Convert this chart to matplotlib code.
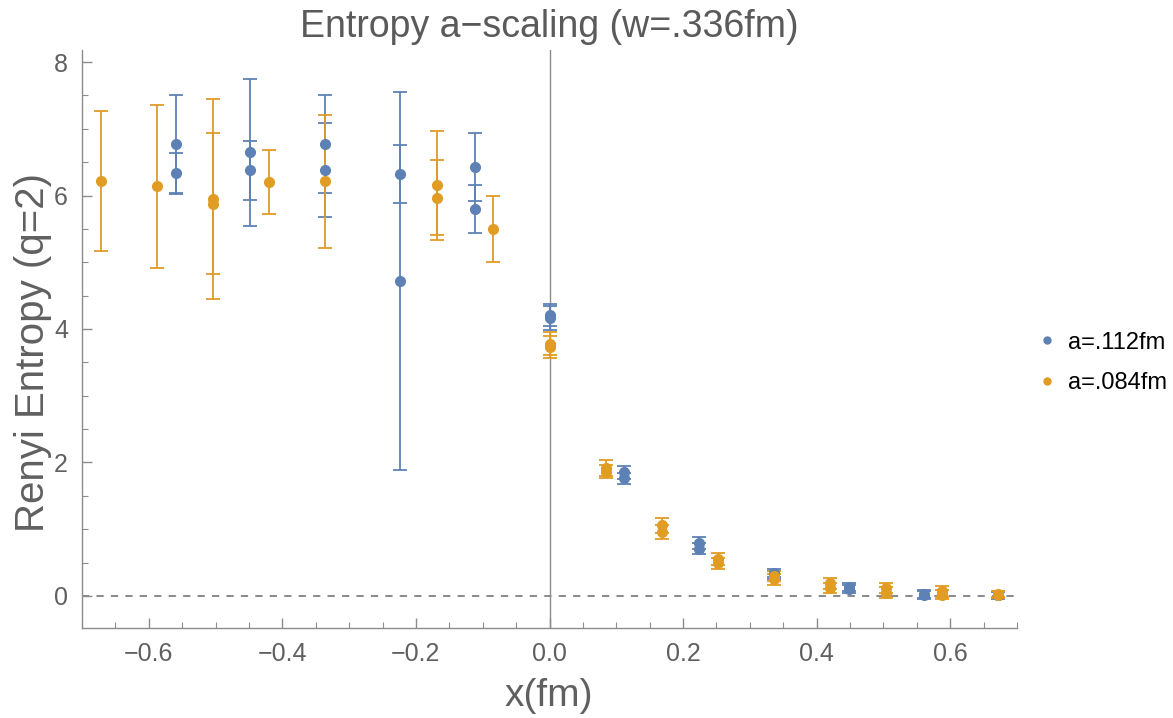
import matplotlib
matplotlib.use('Agg')
import matplotlib.pyplot as plt
from matplotlib.lines import Line2D
from matplotlib.ticker import MultipleLocator

plt.rcParams['font.family'] = ['Liberation Sans', 'DejaVu Sans']

# a = .112 fm lattice
x_112 = [-0.56, -0.56, -0.448, -0.448, -0.336, -0.336, -0.224, -0.224, -0.112, -0.112,
         0.0, 0.0, 0.112, 0.112, 0.224, 0.224, 0.336, 0.336, 0.448, 0.448,
         0.56, 0.56, 0.672, 0.672]
s_112 = [6.77, 6.33, 6.65, 6.38, 6.77, 6.38, 6.32, 4.72, 6.43, 5.80,
         4.21, 4.16, 1.85, 1.76, 0.79, 0.71, 0.34, 0.31, 0.14, 0.10,
         0.03, 0.01, 0.02, 0.01]
e_112 = [0.74, 0.31, 1.10, 0.44, 0.74, 0.70, 0.43, 2.83, 0.51, 0.36,
         0.17, 0.18, 0.10, 0.08, 0.09, 0.08, 0.06, 0.06, 0.06, 0.06,
         0.06, 0.06, 0.05, 0.05]

# a = .084 fm lattice
x_084 = [-0.672, -0.588, -0.504, -0.504, -0.42, -0.336, -0.168, -0.168, -0.084,
         0.0, 0.0, 0.084, 0.084, 0.168, 0.168, 0.252, 0.252, 0.336, 0.336,
         0.42, 0.42, 0.504, 0.504, 0.588, 0.588, 0.672, 0.672]
s_084 = [6.22, 6.14, 5.95, 5.88, 6.20, 6.21, 6.15, 5.97, 5.50,
         3.78, 3.73, 1.92, 1.86, 1.06, 0.96, 0.56, 0.49, 0.30, 0.25,
         0.19, 0.12, 0.12, 0.05, 0.07, 0.02, 0.03, 0.02]
e_084 = [1.05, 1.22, 1.50, 1.06, 0.48, 0.99, 0.81, 0.56, 0.49,
         0.17, 0.16, 0.12, 0.10, 0.11, 0.11, 0.09, 0.08, 0.08, 0.08,
         0.08, 0.08, 0.08, 0.08, 0.08, 0.07, 0.05, 0.05]

labels = ['a=.112fm', 'a=.084fm']
c_blue = '#5e81b5'
c_orange = '#e19c24'
gray = '#606060'
axis_gray = '#8c8c8c'

fig = plt.figure(figsize=(11.73, 7.18), dpi=100)
ax = fig.add_axes([82/1173, 1-628/718, (1017-82)/1173, (628-50)/718])

for xs, ys, es, c in [(x_112, s_112, e_112, c_blue), (x_084, s_084, e_084, c_orange)]:
    ax.errorbar(xs, ys, yerr=es, fmt='o', color=c, ecolor=c, ms=7, elinewidth=1.3,
                capsize=5, capthick=1.3, zorder=3)

ax.axhline(0, color='#808080', lw=1.3, ls=(0, (4, 4)), zorder=1)
ax.axvline(0, color=axis_gray, lw=1.0, zorder=1)

ax.set_xlim(-0.7, 0.7)
ax.set_ylim(-0.48, 8.18)
ax.xaxis.set_major_locator(MultipleLocator(0.2))
ax.xaxis.set_minor_locator(MultipleLocator(0.05))
ax.yaxis.set_major_locator(MultipleLocator(2))
ax.yaxis.set_minor_locator(MultipleLocator(0.5))
ax.xaxis.set_major_formatter(matplotlib.ticker.FuncFormatter(lambda v, p: ('%.1f' % v).replace('-', '\u2212')))

ax.spines['top'].set_visible(False)
ax.spines['right'].set_visible(False)
for sp in ['left', 'bottom']:
    ax.spines[sp].set_color(axis_gray)
    ax.spines[sp].set_linewidth(1.0)
ax.tick_params(which='both', direction='in', color=axis_gray, labelcolor=gray, labelsize=18)
ax.tick_params(which='major', length=7, width=1.0, pad=10)
ax.tick_params(which='minor', length=4, width=0.8)

fig.text(549/1173, 1-27/718, 'Entropy a\u2212scaling (w=.336fm)', ha='center', va='center',
         fontsize=27, color='#5a5a5a')
fig.text(549/1173, 1-696/718, 'x(fm)', ha='center', va='center', fontsize=28, color=gray)
fig.text(33/1173, 1-352/718, 'Renyi Entropy (q=2)', ha='center', va='center', rotation=90,
         fontsize=29, color=gray)

handles = [Line2D([], [], ls='none', marker='o', ms=5, color=c_blue),
           Line2D([], [], ls='none', marker='o', ms=5, color=c_orange)]
fig.legend(handles, labels, loc='center left', bbox_to_anchor=(1014/1173, 1-363/718),
           frameon=False, fontsize=17, handletextpad=0.4, labelspacing=0.8, handlelength=1.0)

fig.savefig('out.png', dpi=100)
